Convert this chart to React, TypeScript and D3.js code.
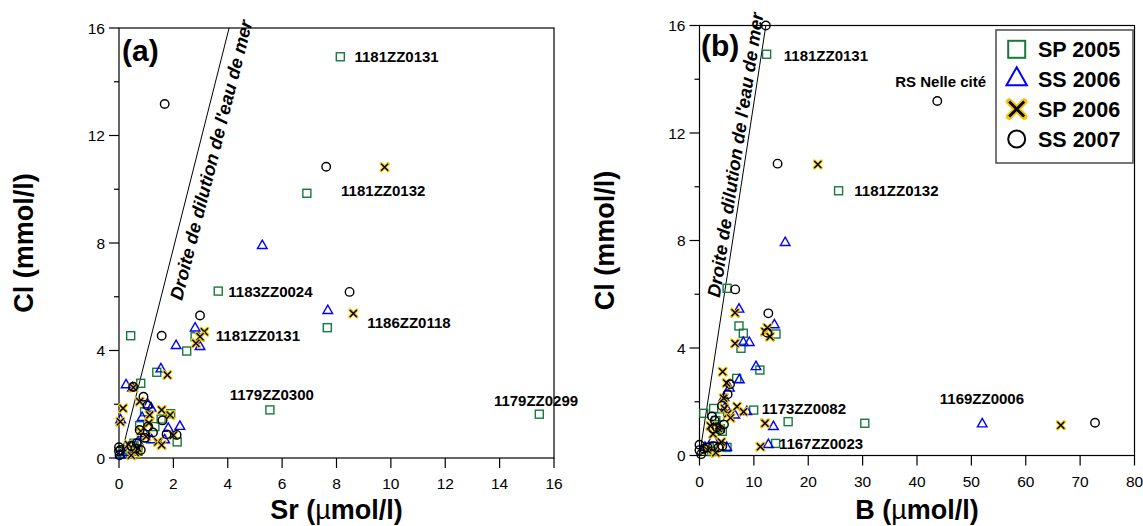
import React from 'react';
import * as d3 from 'd3';

const FONT = '"Liberation Sans", Arial, Helvetica, sans-serif';
const W = 1143;
const H = 526;

// ---------- Panel (a): Sr (µmol/l) vs Cl (mmol/l) ----------
const srSP2005: [number, number][] = [
  [8.14, 14.93], [6.91, 9.85], [3.65, 6.21], [7.66, 4.85], [0.43, 4.55], [2.8, 4.51],
  [2.49, 3.98], [1.39, 3.19], [0.8, 2.78], [5.55, 1.79], [15.46, 1.63], [2.14, 0.6],
  [0.94, 1.72], [1.9, 1.65], [0.76, 1.2], [1.32, 1.17], [1.55, 1.45], [0.95, 0.75],
  [0.5, 0.45], [0.35, 0.3], [0.7, 0.25], [0.12, 0.15], [0.55, 0.55],
];
const srSS2006: [number, number][] = [
  [5.27, 7.9], [7.68, 5.48], [2.8, 4.83], [2.1, 4.18], [2.98, 4.14], [1.54, 3.31],
  [0.26, 2.72], [0.5, 2.6], [2.24, 1.17], [1.07, 1.97], [1.18, 1.85], [0.06, 1.41],
  [1.81, 1.1], [1.68, 0.67], [1.2, 0.67], [0.85, 1.5], [0.95, 0.9], [0.55, 0.3],
  [0.3, 0.2], [0.05, 0.1], [0.7, 0.6],
];
const srSP2006: [number, number][] = [
  [9.77, 10.82], [8.62, 5.38], [3.14, 4.7], [2.98, 4.51], [2.83, 4.27], [1.78, 3.09],
  [0.53, 2.62], [0.15, 1.85], [0.05, 1.35], [0.76, 2.1], [1.13, 1.6], [1.57, 1.79],
  [1.88, 1.6], [1.43, 0.6], [1.57, 0.48], [0.8, 1.0], [1.0, 0.8], [0.6, 0.2],
  [0.45, 0.1], [0.7, 0.35], [1.1, 1.3], [0.35, 0.5], [2.0, 0.85],
];
const srSS2007: [number, number][] = [
  [1.68, 13.17], [7.62, 10.84], [8.48, 6.18], [2.98, 5.3], [1.57, 4.55], [0.52, 2.65],
  [0.9, 2.28], [1.05, 1.95], [1.6, 1.4], [0.76, 1.04], [1.07, 1.17], [1.75, 0.88],
  [2.12, 0.86], [1.25, 0.95], [0.95, 0.75], [0.0, 0.4], [0.0, 0.25], [0.02, 0.1],
  [0.05, 0.3], [0.6, 0.35], [0.8, 0.3], [0.45, 0.45], [0.65, 0.55],
];
const srLabels: { text: string; at: [number, number] }[] = [
  { text: '1181ZZ0131', at: [8.66, 14.75] },
  { text: '1181ZZ0132', at: [8.17, 9.75] },
  { text: '1183ZZ0024', at: [4.02, 5.99] },
  { text: '1181ZZ0131', at: [3.56, 4.35] },
  { text: '1186ZZ0118', at: [9.13, 4.82] },
  { text: '1179ZZ0300', at: [4.07, 2.14] },
  { text: '1179ZZ0299', at: [13.79, 1.95] },
];
const srTicks = [0, 2, 4, 6, 8, 10, 12, 14, 16];
const srSeawater: [number, number][] = [[0.05, 0], [4.05, 16]];

// ---------- Panel (b): B (µmol/l) vs Cl (mmol/l) ----------
const bSP2005: [number, number][] = [
  [12.34, 14.93], [25.58, 9.85], [5.08, 6.22], [7.26, 4.82], [8.06, 4.55], [7.63, 3.99],
  [14.07, 4.52], [11.1, 3.18], [6.84, 2.87], [0.77, 1.57], [2.6, 1.75], [9.96, 1.69],
  [16.3, 1.26], [30.4, 1.2], [14.0, 0.45], [5.06, 0.3], [3.7, 1.44], [3.8, 1.0],
  [1.8, 0.3], [4.2, 0.9], [2.2, 0.15], [3.0, 1.3],
];
const bSS2006: [number, number][] = [
  [15.76, 7.92], [7.26, 5.44], [13.77, 4.86], [8.06, 4.2], [9.16, 4.2], [10.39, 3.3],
  [7.33, 2.81], [5.5, 2.5], [52.0, 1.17], [13.6, 1.07], [12.66, 0.4], [8.7, 1.63],
  [4.8, 1.8], [6.5, 1.5], [3.5, 1.0], [2.5, 0.6], [1.0, 0.3], [5.0, 0.3], [4.5, 2.15],
];
const bSP2006: [number, number][] = [
  [21.76, 10.83], [6.53, 5.31], [6.53, 4.17], [12.05, 4.61], [12.97, 4.42], [12.5, 4.75],
  [4.26, 3.12], [5.0, 2.7], [4.45, 2.13], [4.6, 1.75], [5.2, 1.55], [5.7, 1.4],
  [6.9, 1.82], [8.1, 1.63], [12.05, 1.2], [66.45, 1.13], [11.2, 0.33], [3.5, 1.0],
  [2.5, 0.8], [1.5, 0.2], [4.0, 0.5], [3.0, 0.1], [2.0, 1.1],
];
const bSS2007: [number, number][] = [
  [12.2, 16.0], [43.73, 13.19], [14.36, 10.86], [6.57, 6.18], [12.66, 5.29], [12.47, 4.57],
  [5.61, 2.65], [5.18, 2.28], [4.14, 1.85], [2.3, 1.45], [72.74, 1.22], [2.5, 1.0],
  [3.2, 1.05], [3.8, 0.95], [4.5, 1.15], [2.8, 1.3], [0.0, 0.4], [0.0, 0.2],
  [0.3, 0.05], [1.5, 0.3], [2.5, 0.35], [3.5, 0.3], [4.2, 0.35], [0.8, 0.25],
];
const bLabels: { text: string; at: [number, number] }[] = [
  { text: '1181ZZ0131', at: [15.5, 14.68] },
  { text: 'RS Nelle cité', at: [36.0, 13.71] },
  { text: '1181ZZ0132', at: [28.47, 9.64] },
  { text: '1173ZZ0082', at: [11.46, 1.54] },
  { text: '1169ZZ0006', at: [44.19, 1.9] },
  { text: '1167ZZ0023', at: [14.6, 0.24] },
];
const bTicks = [0, 10, 20, 30, 40, 50, 60, 70, 80];
const bSeawater: [number, number][] = [[0, 0], [12.2, 16]];

const clMajor = [0, 4, 8, 12, 16];
const clMinor = [2, 6, 10, 14];

const seriesNames = ['SP 2005', 'SS 2006', 'SP 2006', 'SS 2007'];
const seriesKinds = ['square', 'triangle', 'cross', 'circle'];

const GREEN = '#157a3c';
const BLUE = '#0000ff';
const GOLD = '#f5c400';

type Kind = 'square' | 'triangle' | 'cross' | 'circle';

function Marker({ kind, x, y, s, sw }: { kind: Kind; x: number; y: number; s: number; sw: number }) {
  if (kind === 'square') {
    return <rect x={x - s / 2} y={y - s / 2} width={s} height={s} fill="none" stroke={GREEN} strokeWidth={sw} />;
  }
  if (kind === 'triangle') {
    const w = s * 1.2;
    const h = s * 1.05;
    return (
      <path
        d={`M${x},${y - (h * 2) / 3}L${x + w / 2},${y + h / 3}L${x - w / 2},${y + h / 3}Z`}
        fill="none"
        stroke={BLUE}
        strokeWidth={sw}
      />
    );
  }
  if (kind === 'cross') {
    const r = s / 2;
    const d = `M${x - r},${y - r}L${x + r},${y + r}M${x - r},${y + r}L${x + r},${y - r}`;
    return (
      <g>
        <path d={d} stroke={GOLD} strokeWidth={sw * 2.3} fill="none" strokeLinecap="round" />
        <path d={d} stroke="#000" strokeWidth={sw} fill="none" />
      </g>
    );
  }
  return <circle cx={x} cy={y} r={s / 2} fill="none" stroke="#000" strokeWidth={sw} />;
}

type PanelCfg = {
  left: number; right: number; top: number; bottom: number;
  xMax: number; xTicks: number[];
  series: [number, number][][];
  labels: { text: string; at: [number, number] }[];
  seawater: [number, number][];
  seaTextCl: number; seaTextDx: number;
  letter: string; letterPos: [number, number];
  xTitle: string; yTitleX: number;
  legend: boolean;
};

function Panel({ cfg }: { cfg: PanelCfg }) {
  const xs = d3.scaleLinear().domain([0, cfg.xMax]).range([cfg.left, cfg.right]);
  const ys = d3.scaleLinear().domain([0, 16]).range([cfg.bottom, cfg.top]);
  const line = d3.line<[number, number]>().x((d) => xs(d[0])).y((d) => ys(d[1]));
  const [p0, p1] = cfg.seawater;
  const ang = (Math.atan2(ys(p1[1]) - ys(p0[1]), xs(p1[0]) - xs(p0[0])) * 180) / Math.PI;
  const seaX = p0[0] + ((p1[0] - p0[0]) * (cfg.seaTextCl - p0[1])) / (p1[1] - p0[1]);
  const tx = xs(seaX) + cfg.seaTextDx;
  const ty = ys(cfg.seaTextCl);
  const cx = (cfg.left + cfg.right) / 2;
  const cy = (cfg.top + cfg.bottom) / 2;
  return (
    <g fontFamily={FONT}>
      <rect x={cfg.left} y={cfg.top} width={cfg.right - cfg.left} height={cfg.bottom - cfg.top} fill="none" stroke="#000" strokeWidth={1.2} />
      {clMajor.map((v) => (
        <g key={'ym' + v}>
          <line x1={cfg.left - 10} x2={cfg.left} y1={ys(v)} y2={ys(v)} stroke="#000" strokeWidth={1.2} />
          <text x={cfg.left - 14} y={ys(v) + 5.5} textAnchor="end" fontSize={15.5}>{v}</text>
        </g>
      ))}
      {clMinor.map((v) => (
        <line key={'yn' + v} x1={cfg.left - 5} x2={cfg.left} y1={ys(v)} y2={ys(v)} stroke="#000" strokeWidth={1.2} />
      ))}
      {cfg.xTicks.map((v) => (
        <g key={'x' + v}>
          <line x1={xs(v)} x2={xs(v)} y1={cfg.bottom} y2={cfg.bottom + 10} stroke="#000" strokeWidth={1.2} />
          <text x={xs(v)} y={cfg.bottom + 31} textAnchor="middle" fontSize={15.5}>{v}</text>
        </g>
      ))}
      <path d={line(cfg.seawater) || ''} stroke="#000" strokeWidth={1} fill="none" />
      <text
        transform={`translate(${tx},${ty}) rotate(${ang})`}
        fontSize={18.3}
        fontWeight="bold"
        fontStyle="italic"
      >
        Droite de dilution de l'eau de mer
      </text>
      {cfg.series.map((pts, si) => (
        <g key={'s' + si}>
          {pts.map((d, i) => (
            <Marker key={i} kind={seriesKinds[si] as Kind} x={xs(d[0])} y={ys(d[1])} s={si === 2 ? 7 : si === 3 ? 8.5 : 8} sw={1.4} />
          ))}
        </g>
      ))}
      {cfg.labels.map((l, i) => (
        <text key={'l' + i} x={xs(l.at[0])} y={ys(l.at[1])} fontSize={15} fontWeight="bold">{l.text}</text>
      ))}
      <text x={cfg.letterPos[0]} y={cfg.letterPos[1]} fontSize={30} fontWeight="bold">{cfg.letter}</text>
      <text x={cx} y={519} textAnchor="middle" fontSize={27} fontWeight="bold">
        {cfg.xTitle} (<tspan fontWeight="normal">µ</tspan>mol/l)
      </text>
      <text transform={`translate(${cfg.yTitleX},${cy}) rotate(-90)`} textAnchor="middle" fontSize={27} fontWeight="bold">
        Cl (mmol/l)
      </text>
      {cfg.legend && <Legend right={cfg.right} top={cfg.top} />}
    </g>
  );
}

function Legend({ right, top }: { right: number; top: number }) {
  const x0 = right - 138.5;
  const y0 = top + 4.5;
  return (
    <g>
      <rect x={x0} y={y0} width={137} height={133} fill="#fff" stroke="#555" strokeWidth={1.6} />
      {seriesNames.map((n, i) => {
        const my = y0 + 19.3 + i * 29.9;
        return (
          <g key={n}>
            <Marker kind={seriesKinds[i] as Kind} x={x0 + 20.7} y={my} s={i === 2 ? 15 : 17} sw={i === 2 ? 2.8 : 2} />
            <text x={x0 + 42} y={my + 8} fontSize={21.5} fontWeight="bold">{n}</text>
          </g>
        );
      })}
    </g>
  );
}

const panelA: PanelCfg = {
  left: 119, right: 554, top: 28, bottom: 458,
  xMax: 16, xTicks: srTicks,
  series: [srSP2005, srSS2006, srSP2006, srSS2007],
  labels: srLabels,
  seawater: srSeawater,
  seaTextCl: 5.84, seaTextDx: 22,
  letter: '(a)', letterPos: [122, 60.5],
  xTitle: 'Sr', yTitleX: 33,
  legend: false,
};

const panelB: PanelCfg = {
  left: 699.5, right: 1134.5, top: 25.5, bottom: 455.5,
  xMax: 80, xTicks: bTicks,
  series: [bSP2005, bSS2006, bSP2006, bSS2007],
  labels: bLabels,
  seawater: bSeawater,
  seaTextCl: 5.86, seaTextDx: -4,
  letter: '(b)', letterPos: [701, 55.5],
  xTitle: 'B', yTitleX: 613.5,
  legend: true,
};

export default function App() {
  return (
    <svg width={W} height={H} style={{ position: 'absolute', left: 0, top: 0, background: '#fff' }}>
      <rect width={W} height={H} fill="#fff" />
      <Panel cfg={panelA} />
      <Panel cfg={panelB} />
    </svg>
  );
}
